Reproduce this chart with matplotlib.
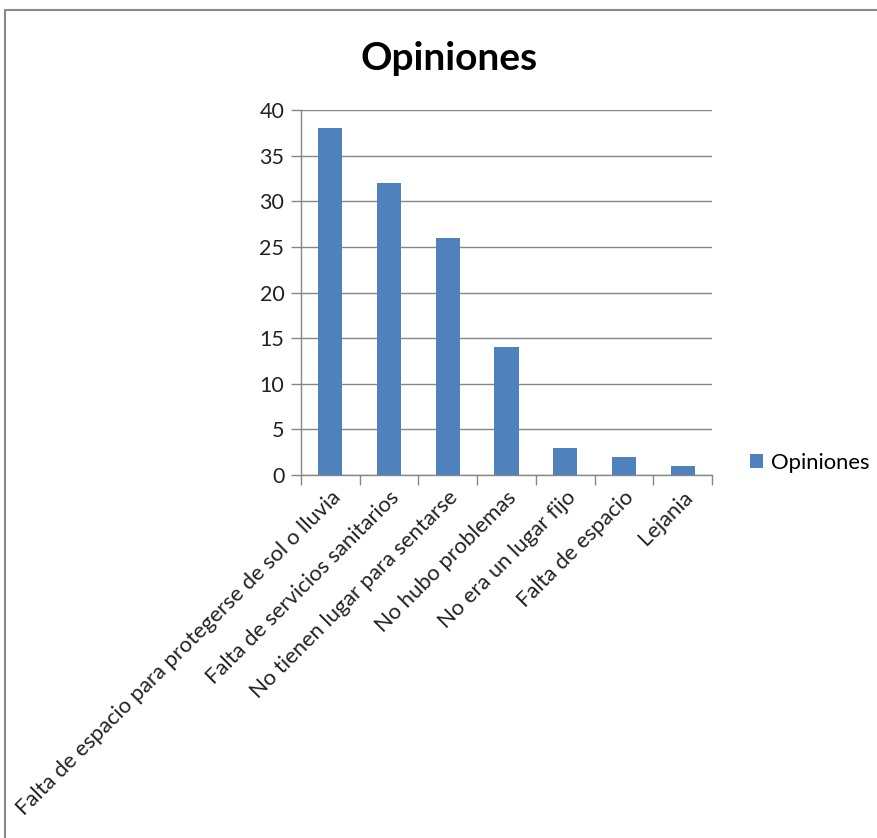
import matplotlib
matplotlib.use("Agg")
import matplotlib.pyplot as plt
from matplotlib.patches import Rectangle, Patch
import numpy as np

categories = [
    "Falta de espacio para protegerse de sol o lluvia",
    "Falta de servicios sanitarios",
    "No tienen lugar para sentarse",
    "No hubo problemas",
    "No era un lugar fijo",
    "Falta de espacio",
    "Lejania",
]
values = [38, 32, 26, 14, 3, 2, 1]
yticks = [0, 5, 10, 15, 20, 25, 30, 35, 40]
series_name = "Opiniones"
title = "Opiniones"

plt.rcParams['font.family'] = ['Lato', 'DejaVu Sans']

W, H = 878, 838
fig = plt.figure(figsize=(W / 100, H / 100), dpi=100)
fig.patch.set_facecolor('white')

# outer chart border
fig.add_artist(Rectangle((5.5 / W, -0.05), 1.1, 1 - 10.5 / H + 0.05,
                         transform=fig.transFigure, fill=False,
                         edgecolor='#888888', linewidth=1.5))

ax = fig.add_axes([301 / W, 1 - 475 / H, 411 / W, 365 / H])
x = np.arange(len(categories))
bars = ax.bar(x, values, width=0.41, color='#4F81BD', zorder=3)

ax.set_xlim(-0.5, len(categories) - 0.5)
ax.set_ylim(0, 40)
ax.set_yticks(yticks)
ax.set_yticklabels([str(t) for t in yticks], fontsize=15.5, color='#222222')
ax.yaxis.grid(True, color='#868686', linewidth=1, zorder=0)
ax.set_axisbelow(True)

ax.set_xticks(x)
ax.set_xticklabels(categories, rotation=45, ha='right', rotation_mode='anchor',
                   fontsize=15.8, color='#222222')
ax.tick_params(axis='x', which='major', length=0, pad=9)
ax.set_xticks(np.arange(-0.5, len(categories), 1.0), minor=True)
ax.tick_params(axis='x', which='minor', length=7, color='#868686', width=1)
ax.tick_params(axis='y', length=7, color='#868686', width=1, pad=5)

for s in ['top', 'right']:
    ax.spines[s].set_visible(False)
for s in ['left', 'bottom']:
    ax.spines[s].set_color('#868686')
    ax.spines[s].set_linewidth(1)

fig.text(449 / W, 1 - 58 / H, title, ha='center', va='center',
         fontsize=28, fontweight='bold', color='black')

handle = Patch(facecolor='#4F81BD', edgecolor='none', label=series_name)
fig.legend(handles=[handle], loc='center left',
           bbox_to_anchor=(750 / W, 1 - 463 / H), frameon=False,
           fontsize=15.8, handlelength=0.6, handleheight=0.6,
           handletextpad=0.35, borderaxespad=0, borderpad=0)

fig.savefig('out.png', dpi=100)
